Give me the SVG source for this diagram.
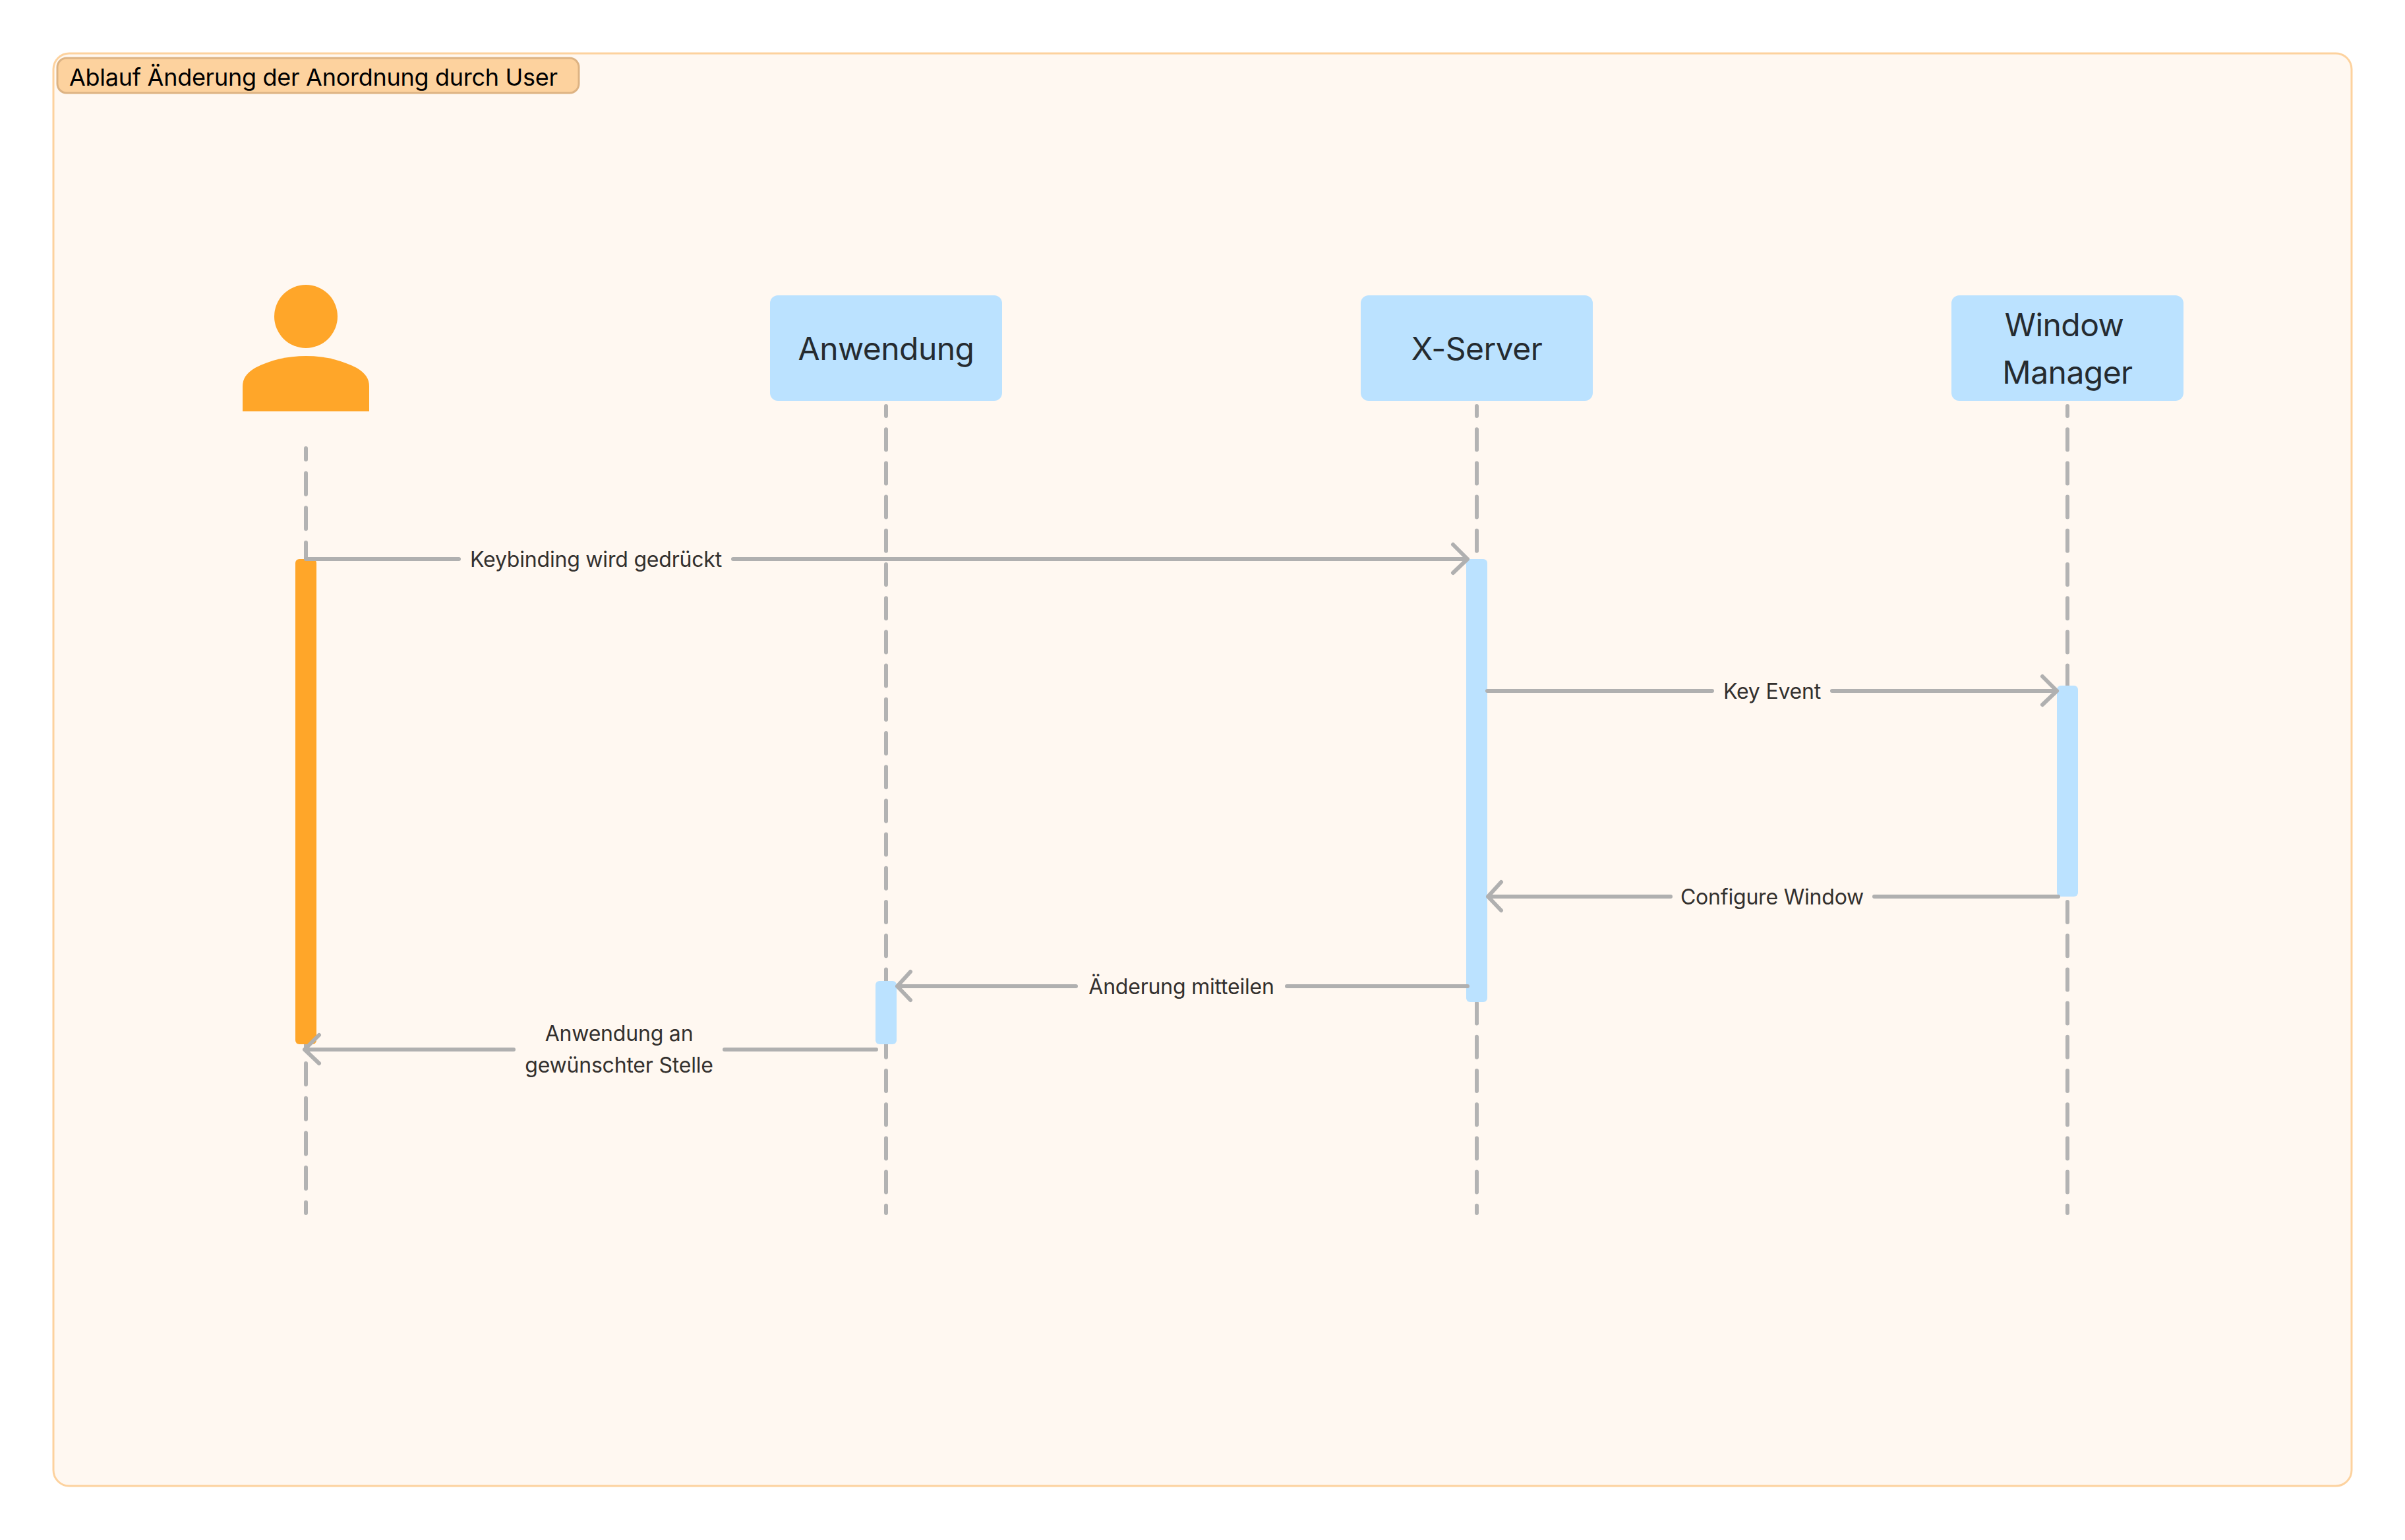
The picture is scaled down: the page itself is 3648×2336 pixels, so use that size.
<svg xmlns="http://www.w3.org/2000/svg" width="3648" height="2336" viewBox="0 0 3648 2336">
<defs>
<style>
text{font-family:Inter,"Noto Sans","Liberation Sans",sans-serif}
.node{fill:#BBE2FF}
.nl{font-size:48px;fill:#252B30;text-anchor:middle;letter-spacing:-.55px}
.el{font-size:32px;fill:#33302E;text-anchor:middle;letter-spacing:-.2px}
.ll{fill:none;stroke:#B3B3B3;stroke-width:6;stroke-linecap:round;stroke-dasharray:31 20.2;stroke-dashoffset:16}
.m{fill:none;stroke:#B0B0B0;stroke-width:6;stroke-linecap:round;stroke-linejoin:round}
</style>
</defs>
<rect width="3648" height="2336" fill="#fff"/>
<g id="frame">
<rect x="81" y="81" width="3486" height="2173" rx="24" fill="#FFF8F1" stroke="#FDD29E" stroke-width="3"/>
<rect x="87" y="88" width="791" height="53" rx="14" fill="#FDD29E" stroke="#DDB383" stroke-width="3"/>
<text x="105" y="130" font-size="36" fill="#000" letter-spacing="-.28">Ablauf Änderung der Anordnung durch User</text>
</g>
<g id="lifelines">
<path class="ll" d="M464 680V1840" style="stroke-dasharray:32 20.67;stroke-dashoffset:15"/>
<path class="ll" d="M1344 616V1840"/>
<path class="ll" d="M2240 616V1840"/>
<path class="ll" d="M3136 616V1840"/>
</g>
<g id="user">
<ellipse cx="464" cy="480" rx="48" ry="48" fill="#FFA629"/>
<path d="M368 624V586C368 574 374 566 387 558C410 546 436 540 464 540C492 540 518 546 541 558C554 566 560 574 560 586V624Z" fill="#FFA629"/>
</g>
<g id="anwendung"><rect class="node" x="1168" y="448" width="352" height="160" rx="12"/><text class="nl" x="1344" y="546">Anwendung</text></g>
<g id="xserver"><rect class="node" x="2064" y="448" width="352" height="160" rx="12"/><text class="nl" x="2240" y="546">X-Server</text></g>
<g id="wm"><rect class="node" x="2960" y="448" width="352" height="160" rx="12"/><text class="nl" x="3131" y="510">Window</text><text class="nl" x="3136" y="582">Manager</text></g>
<g id="activations">
<rect x="448" y="848" width="32" height="736" rx="6" fill="#FFA629"/>
<rect class="node" x="2224" y="848" width="32" height="672" rx="6"/>
<rect class="node" x="3120" y="1040" width="32" height="320" rx="6"/>
<rect class="node" x="1328" y="1488" width="32" height="96" rx="6"/>
</g>
<g id="connectors">
<path class="m" d="M464 848H696M1112 848H2226M2204 826L2226 848L2204 869"/>
<path class="m" d="M2256 1048H2597M2779 1048H3120M3098 1026L3120 1048L3098 1069"/>
<path class="m" d="M3122 1360H2843M2534 1360H2257M2277 1338L2257 1360L2277 1381"/>
<path class="m" d="M2226 1496H1952M1632 1496H1361M1381 1474L1361 1496L1381 1517"/>
<path class="m" d="M1329 1592H1099M779 1592H462M484 1570L462 1592L484 1613"/>
</g>
<g id="labels">
<text class="el" x="904" y="860">Keybinding wird gedrückt</text>
<text class="el" x="2688" y="1060">Key Event</text>
<text class="el" x="2688" y="1372">Configure Window</text>
<text class="el" x="1792" y="1508">Änderung mitteilen</text>
<text class="el" x="939" y="1579">Anwendung an</text>
<text class="el" x="939" y="1627">gewünschter Stelle</text>
</g>
</svg>
